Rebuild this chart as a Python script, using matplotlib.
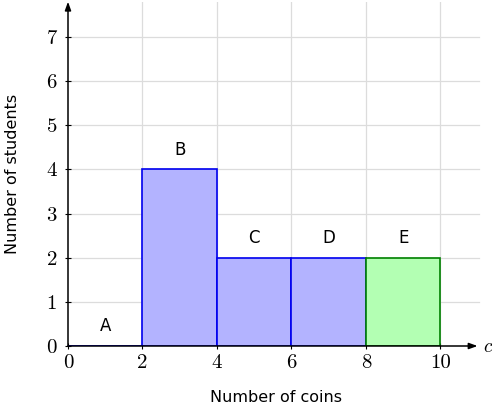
import matplotlib
matplotlib.use("Agg")
import matplotlib.pyplot as plt

categories = ["A", "B", "C", "D", "E"]
bin_left = [0, 2, 4, 6, 8]
bin_width = [2, 2, 2, 2, 2]
counts = [0, 4, 2, 2, 2]
x_ticks = [0, 2, 4, 6, 8, 10]
y_ticks = [0, 1, 2, 3, 4, 5, 6, 7]

plt.rcParams['mathtext.fontset'] = 'cm'

fig = plt.figure(figsize=(4.92, 4.04), dpi=100)
ax = fig.add_axes([68/492, 58/404, 417/492, 7.8*44.14/404])
xmax, ymax = 11.2, 7.8
ax.set_xlim(0, xmax)
ax.set_ylim(0, ymax)

for xv in x_ticks[1:]:
    ax.plot([xv, xv], [0, ymax], color='#dcdcdc', lw=0.9, zorder=0)
for yv in y_ticks[1:]:
    ax.plot([0, xmax - 0.15], [yv, yv], color='#dcdcdc', lw=0.9, zorder=0)

for i, (l, w, c, lab) in enumerate(zip(bin_left, bin_width, counts, categories)):
    if lab == "E":
        fc, ec = '#b3ffb3', '#008000'
    else:
        fc, ec = '#b3b3ff', '#0000ee'
    ax.bar(l, c, width=w, align='edge', facecolor=fc, edgecolor=ec, lw=1.2, zorder=2)
    if c == 0:
        ax.plot([l, l + w], [0, 0], color=ec, lw=1.8, zorder=3)
    ax.text(l + w/2, c + 0.45, lab, ha='center', va='center', fontsize=12,
            family='DejaVu Sans', zorder=4)

for s in ax.spines.values():
    s.set_visible(False)

ax.annotate('', xy=(0, ymax), xytext=(0, 0),
            arrowprops=dict(arrowstyle='-|>,head_length=0.5,head_width=0.18', color='black', lw=1.1, shrinkA=0, shrinkB=0),
            annotation_clip=False, zorder=5)
ax.annotate('', xy=(xmax - 0.2, 0), xytext=(0, 0),
            arrowprops=dict(arrowstyle='-|>,head_length=0.5,head_width=0.18', color='black', lw=1.1, shrinkA=0, shrinkB=0),
            annotation_clip=False, zorder=5)
ax.text(xmax - 0.05, 0, r'$c$', ha='left', va='center', fontsize=14, clip_on=False)

ax.set_xticks(x_ticks)
ax.set_xticklabels([str(v) for v in x_ticks], fontsize=15, family='cmr10')
ax.set_yticks(y_ticks)
ax.set_yticklabels([str(v) for v in y_ticks], fontsize=15, family='cmr10')
ax.tick_params(direction='inout', length=4, width=0.8, color='black')
ax.tick_params(axis='x', pad=4)
ax.tick_params(axis='y', pad=6)

ax.set_xlabel('Number of coins', fontsize=11.5, family='DejaVu Sans', labelpad=13)
ax.set_ylabel('Number of students', fontsize=11.5, family='DejaVu Sans', labelpad=19)

fig.savefig('out.png', dpi=100)
